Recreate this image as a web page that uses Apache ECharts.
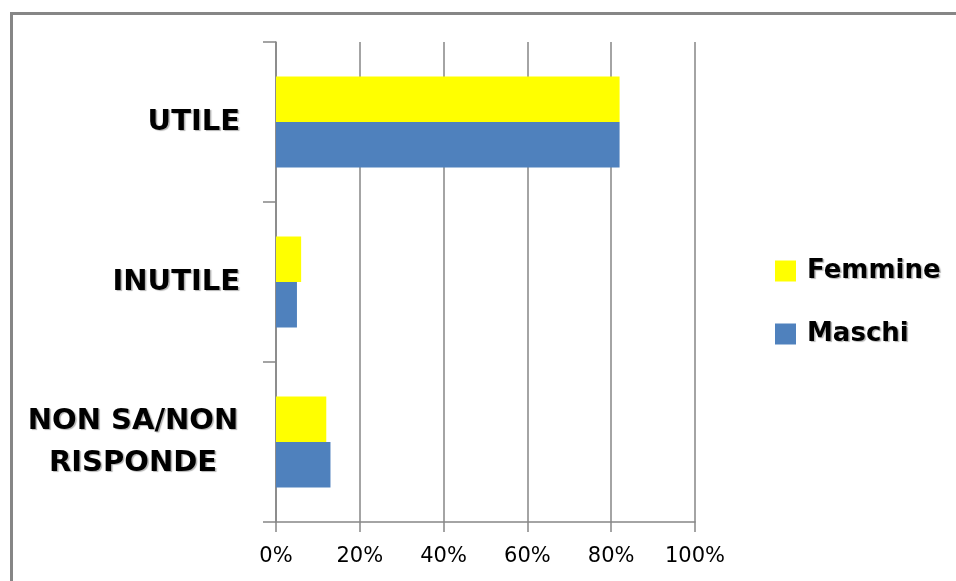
<!DOCTYPE html>
<html>
<head>
<meta charset="utf-8">
<script src="https://cdn.jsdelivr.net/npm/echarts@6/dist/echarts.min.js"></script>
<style>
html,body{margin:0;padding:0;background:#fff;}
#c{width:956px;height:581px;}
</style>
</head>
<body>
<div id="c"></div>
<script>
const categories = ['UTILE', 'INUTILE', 'NON SA/NON RISPONDE'];
const femmine = [82, 6, 12];
const maschi = [82, 5, 13];
const xTicks = [0, 20, 40, 60, 80, 100];
const seriesNames = ['Femmine', 'Maschi'];

const chart = echarts.init(document.getElementById('c'));
const shadow = {textShadowColor: 'rgba(0,0,0,0.3)', textShadowOffsetX: 1.5, textShadowOffsetY: 1.5, textShadowBlur: 1};
const catStyle = Object.assign({fontFamily: 'DejaVu Sans', fontWeight: 'bold', fontSize: 29, color: '#000', lineHeight: 42}, shadow);

chart.setOption({
  animation: false,
  backgroundColor: '#fff',
  graphic: [{
    type: 'rect', shape: {x: 11.5, y: 13.5, width: 1000, height: 1000},
    style: {fill: 'none', stroke: '#868686', lineWidth: 3}, silent: true
  }],
  grid: {left: 276, right: 261, top: 42, bottom: 59, containLabel: false},
  xAxis: {
    type: 'value', min: xTicks[0], max: xTicks[xTicks.length - 1], interval: 20,
    axisLine: {show: true, lineStyle: {color: '#868686', width: 1.5}},
    axisTick: {show: true, length: 10, lineStyle: {color: '#868686', width: 1.5}},
    splitLine: {show: true, lineStyle: {color: '#868686', width: 1.5}},
    axisLabel: {formatter: '{value}%', margin: 24, fontFamily: 'DejaVu Sans', fontSize: 21, color: '#000'}
  },
  yAxis: {
    type: 'category', inverse: true, data: categories,
    axisLine: {show: true, lineStyle: {color: '#868686', width: 1.5}},
    axisTick: {show: true, length: 13, alignWithLabel: false, lineStyle: {color: '#868686', width: 1.5}},
    splitLine: {show: false},
    axisLabel: {
      margin: 36, align: 'right',
      formatter: function (v) {
        if (v === 'NON SA/NON RISPONDE') return '{c|NON SA/NON}\n{c|RISPONDE}';
        return '{a|' + v + '}';
      },
      rich: {
        a: catStyle,
        c: Object.assign({}, catStyle, {width: 214, align: 'center'})
      }
    }
  },
  legend: {
    orient: 'vertical', left: 770, top: 253,
    itemWidth: 21, itemHeight: 21, itemGap: 37, icon: 'rect',
    data: seriesNames,
    textStyle: Object.assign({fontFamily: 'DejaVu Sans', fontWeight: 'bold', fontSize: 26, color: '#000', padding: [0, 0, 0, 6]}, shadow)
  },
  series: [
    {name: seriesNames[0], type: 'bar', data: femmine, itemStyle: {color: '#FFFF00'}, barGap: '0%', barCategoryGap: '43%'},
    {name: seriesNames[1], type: 'bar', data: maschi, itemStyle: {color: '#4F81BD'}, barGap: '0%', barCategoryGap: '43%'}
  ]
});
</script>
</body>
</html>
